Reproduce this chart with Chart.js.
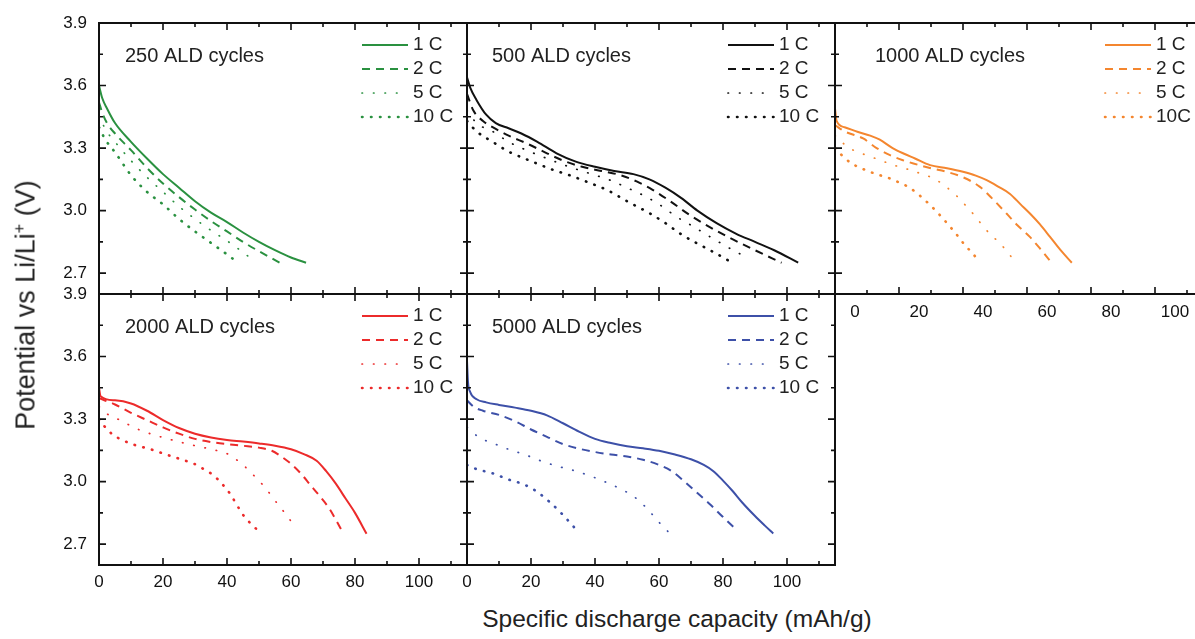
<!DOCTYPE html>
<html>
<head>
<meta charset="utf-8">
<title>Rate capability after ALD cycles</title>
<script src="https://cdn.jsdelivr.net/npm/chart.js@4.4.1/dist/chart.umd.min.js"></script>
<style>
  html, body { margin: 0; padding: 0; background: #fff; overflow: hidden; }
  body { width: 1195px; height: 639px; position: relative; font-family: "Liberation Sans", Arial, sans-serif; }
  canvas { position: absolute; }
  .axis-title { position: absolute; color: #222; white-space: nowrap; }
  #ytitle { left: 26px; top: 305px; font-size: 27px; transform: translate(-50%, -50%) rotate(-90deg); }
  #ytitle sup { font-size: 0.6em; line-height: 0; }
  #xtitle { left: 677px; top: 605px; font-size: 24.5px; transform: translateX(-50%); }
</style>
</head>
<body>
<canvas id="p250" width="440" height="335" style="left:39px;top:-1px"></canvas>
<canvas id="p500" width="440" height="335" style="left:407px;top:-1px"></canvas>
<canvas id="p1000" width="440" height="335" style="left:775px;top:-1px"></canvas>
<canvas id="p2000" width="440" height="335" style="left:39px;top:270px"></canvas>
<canvas id="p5000" width="440" height="335" style="left:407px;top:270px"></canvas>
<div id="ytitle" class="axis-title">Potential vs Li/Li<sup>+</sup> (V)</div>
<div id="xtitle" class="axis-title">Specific discharge capacity (mAh/g)</div>
<script>
// axis ticks
var capacityTicks = [0, 20, 40, 60, 80, 100];
var capacityMinor = [10, 30, 50, 70, 90, 110];
var voltageTicks = [2.7, 3.0, 3.3, 3.6, 3.9];
var voltageMinor = [2.85, 3.15, 3.45, 3.75];
var rateLabels = ['1 C', '2 C', '5 C', '10 C'];

// 250 ALD cycles  [capacity mAh/g, potential V]
var g1C = [[0,3.60],[1,3.54],[2.5,3.49],[5,3.42],[10,3.33],[15,3.25],[20,3.175],[25,3.11],[30,3.045],[35,2.99],[40,2.945],[45,2.895],[50,2.85],[55,2.81],[60,2.775],[64.7,2.75]];
var g2C = [[0,3.52],[1,3.47],[2.5,3.42],[5,3.37],[10,3.29],[15,3.205],[20,3.13],[25,3.065],[30,3.005],[35,2.95],[40,2.90],[45,2.85],[50,2.805],[56.5,2.75]];
var g5C = [[0,3.46],[2,3.39],[5,3.33],[10,3.24],[15,3.16],[20,3.09],[25,3.02],[30,2.96],[35,2.905],[40,2.855],[45,2.80],[48.8,2.755]];
var g10C = [[0,3.40],[2,3.34],[5,3.28],[10,3.17],[15,3.09],[20,3.03],[25,2.96],[30,2.90],[35,2.845],[40,2.79],[42.6,2.76]];

// 500 ALD cycles
var k1C = [[0,3.64],[1,3.59],[3,3.53],[6,3.46],[9,3.42],[13,3.395],[17,3.37],[22,3.33],[28,3.275],[34,3.235],[40,3.21],[46,3.19],[52,3.175],[57,3.15],[62,3.11],[67,3.06],[72,3.00],[78,2.94],[84,2.89],[90,2.85],[96,2.81],[103.5,2.75]];
var k2C = [[0,3.56],[2,3.48],[5,3.43],[8,3.40],[13,3.36],[19,3.32],[25,3.275],[30,3.24],[36,3.21],[42,3.19],[48,3.17],[53,3.14],[58,3.10],[63,3.05],[70,2.975],[76,2.92],[82,2.87],[90,2.81],[98.3,2.75]];
var k5C = [[0,3.48],[3,3.42],[8,3.38],[13,3.33],[18.6,3.29],[25,3.25],[32,3.21],[38,3.18],[44.7,3.146],[50,3.11],[56,3.066],[61,3.02],[65.5,2.97],[70,2.93],[76,2.874],[82,2.82],[88,2.77]];
var k10C = [[0,3.43],[3,3.38],[8,3.33],[13.4,3.28],[18,3.25],[22.8,3.22],[27,3.195],[32,3.17],[38,3.135],[43.6,3.10],[50,3.045],[57.2,2.986],[62,2.94],[66.6,2.89],[71,2.85],[76,2.81],[81.7,2.76]];

// 1000 ALD cycles
var o1C = [[0,3.49],[0.5,3.43],[3,3.40],[7,3.378],[11,3.36],[14,3.34],[18,3.30],[21.4,3.274],[25,3.25],[29.7,3.218],[35,3.203],[40,3.186],[44,3.168],[47.4,3.146],[51,3.115],[54.7,3.08],[58,3.03],[61,2.985],[64,2.935],[67.2,2.874],[70.5,2.81],[74,2.75]];
var o2C = [[0,3.41],[3,3.38],[8.8,3.346],[13,3.30],[17.2,3.266],[21,3.243],[24.5,3.226],[30,3.203],[34.9,3.186],[40,3.16],[45.3,3.114],[49,3.06],[53.6,2.986],[57,2.93],[60.9,2.874],[64.5,2.81],[67.7,2.75]];
var o5C = [[0,3.36],[2,3.33],[5.7,3.29],[10,3.265],[14.1,3.242],[18,3.22],[22.4,3.20],[26,3.182],[29.7,3.162],[33,3.134],[36,3.098],[38.7,3.06],[41.2,3.018],[44,2.97],[46.4,2.922],[49,2.88],[51.6,2.842],[54,2.80],[56.2,2.755]];
var o10C = [[0,3.30],[2.5,3.26],[5.2,3.226],[8,3.205],[10.9,3.186],[14,3.17],[17.2,3.154],[20,3.135],[22.9,3.114],[25.5,3.085],[28.1,3.05],[30.5,3.015],[32.8,2.978],[35,2.94],[36.9,2.906],[38.8,2.87],[40.6,2.834],[42.7,2.80],[44.8,2.762]];

// 2000 ALD cycles
var r1C = [[0,3.45],[0.5,3.41],[5,3.39],[10,3.375],[15,3.34],[20,3.295],[25,3.257],[30,3.23],[35,3.212],[40,3.20],[45,3.192],[50,3.183],[55,3.172],[60,3.155],[64,3.132],[68,3.10],[71,3.05],[74,2.99],[77,2.92],[80,2.85],[83.6,2.75]];
var r2C = [[0,3.40],[5,3.37],[10,3.33],[15,3.295],[20,3.26],[25,3.23],[30,3.205],[35,3.19],[40,3.18],[45,3.172],[50,3.163],[54,3.148],[57,3.12],[60,3.085],[63,3.04],[66,2.985],[69,2.93],[72,2.87],[75.8,2.767]];
var r5C = [[0,3.36],[2,3.33],[5.5,3.303],[9,3.275],[12.8,3.247],[17,3.225],[21.1,3.207],[26,3.187],[31.6,3.167],[36,3.152],[39.9,3.135],[42.5,3.11],[45.1,3.079],[47.7,3.04],[50.3,2.999],[52.5,2.96],[54.5,2.919],[56.5,2.88],[58.6,2.839],[61.3,2.783]];
var r10C = [[0,3.30],[2,3.26],[4.5,3.223],[7.5,3.198],[10.7,3.178],[13.8,3.165],[17,3.151],[20,3.135],[23.2,3.119],[26.4,3.103],[29.5,3.087],[32.7,3.06],[35.7,3.031],[38.4,2.99],[40.9,2.943],[43,2.89],[45.1,2.839],[48,2.79],[50.8,2.751]];

// 5000 ALD cycles
var b1C = [[0,3.58],[0.3,3.48],[1,3.43],[3,3.395],[6,3.38],[10,3.368],[15,3.355],[20,3.34],[25,3.318],[30,3.28],[35,3.24],[40,3.205],[45,3.185],[50,3.17],[55,3.16],[60,3.148],[65,3.13],[70,3.107],[74,3.08],[77,3.05],[80,3.005],[83,2.955],[86,2.90],[90,2.835],[93,2.79],[95.7,2.751]];
var b2C = [[0,3.39],[2,3.36],[5,3.34],[10,3.32],[15,3.29],[20,3.25],[25,3.215],[30,3.18],[35,3.158],[40,3.142],[45,3.13],[50,3.12],[55,3.105],[60,3.08],[64,3.05],[68,3.00],[72,2.945],[76,2.89],[80,2.83],[84.3,2.767]];
var b5C = [[0,3.26],[4,3.21],[8,3.185],[13,3.155],[18,3.13],[23,3.10],[28,3.075],[33,3.055],[38,3.03],[43,3.00],[48,2.965],[52,2.93],[56,2.875],[60,2.805],[62.9,2.759]];
var b10C = [[0,3.08],[3,3.06],[8,3.04],[13,3.01],[18,2.985],[22,2.95],[26,2.90],[30,2.84],[34.3,2.767]];

Chart.defaults.font.family = '"Liberation Sans", Arial, sans-serif';

// frame, inward ticks on all sides, panel title and the legend inside the plot
var panelDecor = {
  id: 'panelDecor',
  afterDatasetsDraw: function(chart, args, opts) {
    var ctx = chart.ctx, a = chart.chartArea, xs = chart.scales.x, ys = chart.scales.y;
    ctx.save();
    ctx.strokeStyle = '#111';
    ctx.lineWidth = 2;
    ctx.strokeRect(a.left, a.top, a.right - a.left, a.bottom - a.top);

    ctx.lineWidth = 1.6;
    ctx.beginPath();
    function xt(v, len) {
      var p = xs.getPixelForValue(v);
      if (p <= a.left + 1 || p >= a.right - 1) return;
      ctx.moveTo(p, a.bottom); ctx.lineTo(p, a.bottom - len);
      ctx.moveTo(p, a.top); ctx.lineTo(p, a.top + len);
    }
    function yt(v, len) {
      var p = ys.getPixelForValue(v);
      if (p <= a.top + 1 || p >= a.bottom - 1) return;
      ctx.moveTo(a.left, p); ctx.lineTo(a.left + len, p);
      ctx.moveTo(a.right, p); ctx.lineTo(a.right - len, p);
    }
    capacityTicks.forEach(function(v) { xt(v, 7); });
    capacityMinor.forEach(function(v) { xt(v, 4); });
    voltageTicks.forEach(function(v) { yt(v, 7); });
    voltageMinor.forEach(function(v) { yt(v, 4); });
    ctx.stroke();

    ctx.fillStyle = '#222';
    ctx.textBaseline = 'middle';
    ctx.font = '20px "Liberation Sans", Arial, sans-serif';
    ctx.fillText(opts.title, a.left + opts.titleX, a.top + 33);

    ctx.font = '19px "Liberation Sans", Arial, sans-serif';
    chart.data.datasets.forEach(function(ds, i) {
      var yy = a.top + 22 + i * 24;
      var x0 = a.left + opts.legendX;
      ctx.save();
      ctx.strokeStyle = ds.borderColor;
      ctx.lineWidth = ds.borderWidth;
      ctx.lineCap = ds.borderCapStyle || 'butt';
      ctx.setLineDash(ds.borderDash || []);
      ctx.beginPath();
      ctx.moveTo(x0, yy);
      ctx.lineTo(x0 + 46, yy);
      ctx.stroke();
      ctx.restore();
      ctx.fillText(ds.label, x0 + 51, yy);
    });
    ctx.restore();
  }
};

function series(label, data, color, kind) {
  var ds = {
    label: label,
    data: data,
    borderColor: color,
    backgroundColor: color,
    fill: false,
    pointRadius: 0,
    pointHoverRadius: 0,
    cubicInterpolationMode: 'monotone'
  };
  if (kind === 'solid') { ds.borderWidth = 2; }
  if (kind === 'dash') { ds.borderWidth = 2; ds.borderDash = [8, 6]; }
  if (kind === 'dot') { ds.borderWidth = 1.7; ds.borderDash = [0.5, 11]; ds.borderCapStyle = 'round'; }
  if (kind === 'bigdot') { ds.borderWidth = 2.6; ds.borderDash = [0.5, 8.5]; ds.borderCapStyle = 'round'; }
  return ds;
}

function makePanel(id, title, color, sets, cfg) {
  var labels = cfg.labels || rateLabels;
  var tickFont = { size: 17 };
  new Chart(document.getElementById(id), {
    type: 'line',
    data: {
      datasets: [
        series(labels[0], sets[0], color, 'solid'),
        series(labels[1], sets[1], color, 'dash'),
        series(labels[2], sets[2], color, 'dot'),
        series(labels[3], sets[3], color, 'bigdot')
      ]
    },
    options: {
      responsive: false,
      animation: false,
      events: [],
      layout: { padding: { top: 24, right: 12, left: 0, bottom: 0 } },
      plugins: {
        legend: { display: false },
        tooltip: { enabled: false },
        panelDecor: { title: title, titleX: cfg.titleX, legendX: cfg.legendX }
      },
      scales: {
        x: {
          type: 'linear', min: 0, max: 115,
          grid: { display: false, drawTicks: false },
          border: { display: false },
          afterBuildTicks: function(s) { s.ticks = capacityTicks.map(function(v) { return { value: v }; }); },
          afterFit: function(s) { s.height = 40; },
          ticks: { display: !!cfg.xLabels, padding: cfg.xPad || 7, labelOffset: cfg.labelOffset || 0,
                   maxRotation: 0, color: '#111', font: tickFont }
        },
        y: {
          type: 'linear', min: 2.6, max: 3.9,
          grid: { display: false, drawTicks: false },
          border: { display: false },
          afterBuildTicks: function(s) { s.ticks = voltageTicks.map(function(v) { return { value: v }; }); },
          afterFit: function(s) { s.width = 60; },
          ticks: { display: !!cfg.yLabels, padding: 12, color: '#111', font: tickFont,
                   callback: function(v) { return Number(v).toFixed(1); } }
        }
      }
    },
    plugins: [panelDecor]
  });
}

makePanel('p250', '250 ALD cycles', '#2a9140', [g1C, g2C, g5C, g10C],
  { yLabels: true, titleX: 26, legendX: 263 });
makePanel('p500', '500 ALD cycles', '#111111', [k1C, k2C, k5C, k10C],
  { titleX: 25, legendX: 261 });
makePanel('p1000', '1000 ALD cycles', '#f4862f', [o1C, o2C, o5C, o10C],
  { xLabels: true, xPad: 8, labelOffset: 20, titleX: 40, legendX: 270, labels: ['1 C', '2 C', '5 C', '10C'] });
makePanel('p2000', '2000 ALD cycles', '#ec2b2b', [r1C, r2C, r5C, r10C],
  { yLabels: true, xLabels: true, titleX: 26, legendX: 263 });
makePanel('p5000', '5000 ALD cycles', '#3d50a8', [b1C, b2C, b5C, b10C],
  { xLabels: true, titleX: 25, legendX: 261 });
</script>
</body>
</html>
